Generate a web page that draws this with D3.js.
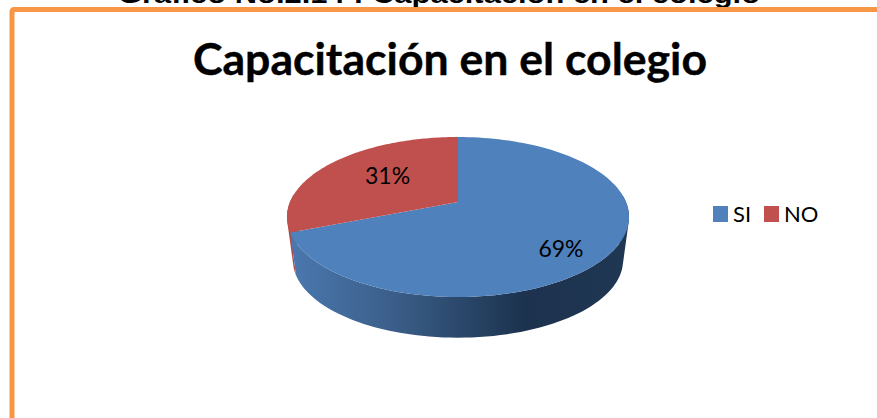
<!DOCTYPE html>
<html lang="es">
<head>
<meta charset="utf-8">
<script src="https://cdn.jsdelivr.net/npm/d3@7/dist/d3.min.js"></script>
<style>
html,body{margin:0;padding:0;background:#fff;overflow:hidden}
svg{display:block}
</style>
</head>
<body>
<svg id="c" width="877" height="418"></svg>
<script>
const categories = ["SI", "NO"];
const values = [69, 31];
const colors = ["#4f81bd", "#c0504d"];
const caption = "Gráfico No.2.14 : Capacitación en el colegio";
const title = "Capacitación en el colegio";

const W = 877, H = 418;
const svg = d3.select("#c");
const FONT = "Lato, Carlito, Calibri, sans-serif";

// perspective of the tilted disc
const persp = 0.1875;
const xTop = d3.scaleLinear().domain([-1, 1]).range([290, 626]);
const yTop = d3.scaleLinear().domain([-1, 1]).range([279.2, 124.8]);
const depthScale = 0.965, depthDrop = 44;
function project(a, r, bottom) {
  const u = r * Math.sin(a), v = r * Math.cos(a), w = 1 + persp * v;
  const s = bottom ? depthScale : 1;
  const cx = xTop(0), cy = yTop(0) + (bottom ? depthDrop : 0);
  return [cx + s * (xTop(u / w) - cx), cy + s * (yTop(v / w) - yTop(0))];
}
const line = d3.line();
const STEPS = 120;
const angleAt = (a0, a1, k) => a0 + (a1 - a0) * k / STEPS;
const arcPts = (a0, a1, bottom) =>
  d3.range(0, STEPS + 1).map(k => project(angleAt(a0, a1, k), 1, bottom));

const slices = d3.pie().sort(null).value(d => d)(values);

// caption cut by the frame
svg.append("text").attr("x", 118).attr("y", 2.5)
  .attr("textLength", 642).attr("lengthAdjust", "spacingAndGlyphs")
  .attr("font-family", "'Liberation Sans', Arial, sans-serif")
  .attr("font-weight", 700).attr("font-size", 25).attr("fill", "#000").text(caption);

// frame
svg.append("rect").attr("x", 0).attr("y", 7).attr("width", W).attr("height", H).attr("fill", "#fff");
svg.append("rect").attr("x", 12).attr("y", 9.5).attr("width", W + 40).attr("height", H + 40)
  .attr("rx", 2).attr("fill", "#fff").attr("stroke", "#f79646").attr("stroke-width", 5);

// title
svg.append("text").attr("x", 193).attr("y", 75)
  .attr("textLength", 514).attr("lengthAdjust", "spacingAndGlyphs")
  .attr("font-family", FONT).attr("font-weight", 700).attr("font-size", 44)
  .attr("fill", "#000").attr("stroke", "#000").attr("stroke-width", 0.4).text(title);

// gradient of the side wall
const defs = svg.append("defs");
const grad = defs.append("linearGradient").attr("id", "wall")
  .attr("gradientUnits", "userSpaceOnUse").attr("x1", 290).attr("x2", 626).attr("y1", 0).attr("y2", 0);
[[0, "#4a78af"], [0.3, "#3b5f8a"], [0.7, "#1c324e"], [1, "#203753"]].forEach(s =>
  grad.append("stop").attr("offset", s[0]).attr("stop-color", s[1]));

// side walls: swept quads of one winding in one path, so they merge without seams
const wallFill = ["url(#wall)", "#b04a47"];
slices.map((d, i) => i).reverse().forEach(i => {
  const d = slices[i];
  const top = arcPts(d.startAngle, d.endAngle, false);
  const bot = arcPts(d.startAngle, d.endAngle, true);
  const quads = d3.range(0, STEPS)
    .filter(k => Math.cos(angleAt(d.startAngle, d.endAngle, k)) < 0.1)
    .map(k => {
      const q = [top[k], top[k + 1], bot[k + 1], bot[k]];
      return (d3.polygonArea(q) < 0 ? q.reverse() : q);
    });
  svg.append("path").attr("fill", wallFill[i]).attr("fill-rule", "nonzero")
    .attr("d", quads.map(q => line(q) + "Z").join(""));
});

// top faces
slices.forEach((d, i) => {
  const pts = [project(0, 0, false)].concat(arcPts(d.startAngle, d.endAngle, false));
  svg.append("path").attr("d", line(pts) + "Z").attr("fill", colors[i]);
});

// percentage labels
const nudges = [[14, 18], [8, -2.5]];
const total = d3.sum(values);
slices.forEach((d, i) => {
  const p = project((d.startAngle + d.endAngle) / 2, 0.6, false);
  svg.append("text").attr("x", p[0] + nudges[i][0]).attr("y", p[1] + nudges[i][1])
    .attr("text-anchor", "middle").attr("dominant-baseline", "central")
    .attr("font-family", FONT).attr("font-size", 23).attr("fill", "#000")
    .text(Math.round(d.value / total * 100) + "%");
});

// legend
const legendX = [713, 764];
categories.forEach((c, i) => {
  svg.append("rect").attr("x", legendX[i]).attr("y", 206).attr("width", 15).attr("height", 16).attr("fill", colors[i]);
  svg.append("text").attr("x", legendX[i] + 20).attr("y", 222)
    .attr("font-family", FONT).attr("font-size", 22).attr("fill", "#000").text(c);
});
</script>
</body>
</html>
